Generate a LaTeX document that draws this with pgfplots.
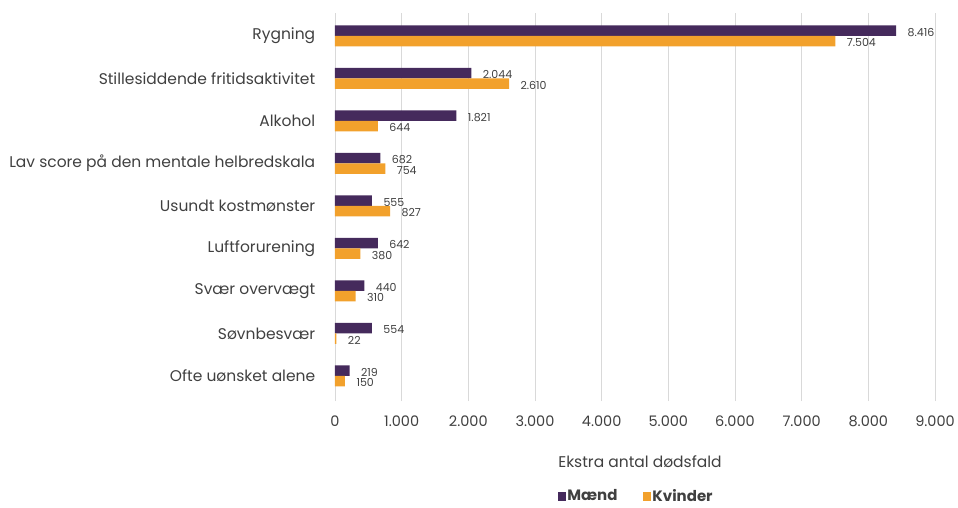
\documentclass[border=0pt]{standalone}
\usepackage{pgfplots}
\pgfplotsset{compat=1.18}
\usepackage{fontspec}
\setmainfont{Poppins}
\usetikzlibrary{calc}
\definecolor{maend}{HTML}{452A5C}
\definecolor{kvinder}{HTML}{F2A12C}
\definecolor{txt}{HTML}{404040}
\definecolor{gridc}{HTML}{D9D9D9}
\begin{document}
\begin{tikzpicture}
\begin{axis}[
  scale only axis, width=600pt, height=388pt,
  xbar, bar width=10.5pt,
  xmin=0, xmax=9000, ymin=-0.59, ymax=8.54,
  xtick={0,1000,...,9000},
  ytick={0,...,8},
  yticklabels={Ofte uønsket alene, Søvnbesvær, Svær overvægt, Luftforurening, Usundt kostmønster, Lav score på den mentale helbredskala, Alkohol, Stillesiddende fritidsaktivitet, Rygning},
  axis line style={draw=none},
  xmajorgrids, major grid style={gridc, line width=0.8pt},
  tick style={draw=none},
  scaled x ticks=false,
  /pgf/number format/1000 sep={.},
  /pgf/number format/assume math mode=true,
  xticklabel style={font=\fontsize{14.5}{16}\selectfont, text=txt, anchor=center, yshift=-20pt},
  yticklabel style={font=\fontsize{15.5}{17}\selectfont, text=txt, anchor=east, xshift=-12pt},
  xlabel={Ekstra antal dødsfald},
  xlabel style={at={(axis description cs:0.5,0)}, anchor=center, yshift=-61pt, xshift=5pt, font=\fontsize{15.5}{17}\selectfont, text=txt},
  point meta=x,
  nodes near coords,
  nodes near coords style={font=\fontsize{11}{12}\selectfont, text=txt, anchor=west, xshift=8pt, yshift=-1.5pt},
  legend style={at={(0.5,0)}, anchor=center, yshift=-95pt, xshift=1pt, draw=none, legend columns=2,
    font=\bfseries\fontsize{15}{16}\selectfont, text=txt,
    /tikz/every even column/.append style={column sep=24pt},
    nodes={inner xsep=1.5pt}},
  legend image code/.code={\fill[#1] (0pt,-4.5pt) rectangle (8pt,4.5pt);},
]
\addplot[fill=maend, draw=none, bar shift=5.25pt] coordinates {(8416,8) (2044,7) (1821,6) (682,5) (555,4) (642,3) (440,2) (554,1) (219,0)};
\addplot[fill=kvinder, draw=none, bar shift=-5.25pt] coordinates {(7504,8) (2610,7) (644,6) (754,5) (827,4) (380,3) (310,2) (22,1) (150,0)};
\legend{Mænd, Kvinder}
\coordinate (bl) at (rel axis cs:0,0);
\coordinate (tr) at (rel axis cs:1,1);
\end{axis}
\pgfresetboundingbox
\path[use as bounding box] ($(bl)+(-335pt,-106pt)$) rectangle ($(tr)+(23pt,13pt)$);
\end{tikzpicture}
\end{document}
